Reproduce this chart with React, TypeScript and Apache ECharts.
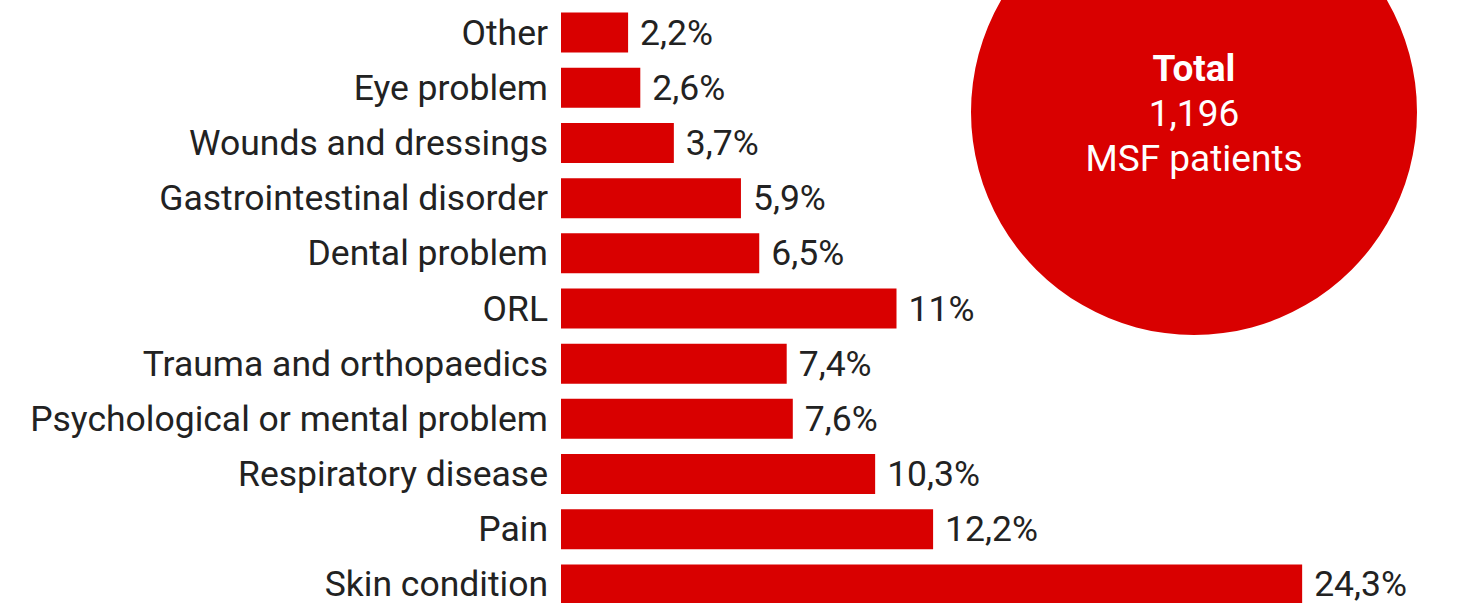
import React, { useEffect, useRef } from "react";
import * as echarts from "echarts";

const categories = [
  "Other",
  "Eye problem",
  "Wounds and dressings",
  "Gastrointestinal disorder",
  "Dental problem",
  "ORL",
  "Trauma and orthopaedics",
  "Psychological or mental problem",
  "Respiratory disease",
  "Pain",
  "Skin condition",
];
const values = [2.2, 2.6, 3.7, 5.9, 6.5, 11, 7.4, 7.6, 10.3, 12.2, 24.3];
const valueLabels = ["2,2%", "2,6%", "3,7%", "5,9%", "6,5%", "11%", "7,4%", "7,6%", "10,3%", "12,2%", "24,3%"];
const totalLines = ["Total", "1,196", "MSF patients"];

const RED = "#d90000";
const FONT = "Roboto";

export default function App() {
  const ref = useRef<HTMLDivElement>(null);
  useEffect(() => {
    document.body.style.margin = "0";
    const chart = echarts.init(ref.current!, null, { renderer: "svg" });
    chart.setOption({
      animation: false,
      grid: { left: 561, right: 0, top: 5, height: 607, containLabel: false },
      xAxis: { type: "value", min: 0, max: 897 / 30.5, show: false },
      yAxis: {
        type: "category",
        data: categories,
        inverse: true,
        axisLine: { show: false },
        axisTick: { show: false },
        axisLabel: { color: "#222", fontFamily: FONT, fontSize: 35.5, lineHeight: 32, margin: 13 },
      },
      series: [
        {
          type: "bar",
          data: values,
          barWidth: 40,
          itemStyle: { color: RED },
          label: {
            show: true,
            position: "right",
            distance: 12,
            color: "#222",
            fontFamily: FONT,
            fontSize: 35.5,
            lineHeight: 32,
            formatter: (p: any) => valueLabels[p.dataIndex],
          },
        },
      ],
      graphic: [
        { type: "circle", shape: { cx: 1194, cy: 112, r: 223 }, style: { fill: RED }, z: 10 },
        {
          type: "text", x: 1194, y: 68, z: 11,
          style: { text: totalLines[0], fill: "#fff", font: `bold 37px ${FONT}`, textAlign: "center", textVerticalAlign: "middle" },
        },
        {
          type: "text", x: 1194, y: 113, z: 11,
          style: { text: totalLines[1], fill: "#fff", font: `37px ${FONT}`, textAlign: "center", textVerticalAlign: "middle" },
        },
        {
          type: "text", x: 1194, y: 158, z: 11,
          style: { text: totalLines[2], fill: "#fff", font: `37px ${FONT}`, textAlign: "center", textVerticalAlign: "middle" },
        },
      ],
    });
    return () => chart.dispose();
  }, []);
  return (
    <div style={{ width: 1458, height: 603, overflow: "hidden", position: "relative" }}>
      <div ref={ref} style={{ width: 1458, height: 620 }} />
    </div>
  );
}
